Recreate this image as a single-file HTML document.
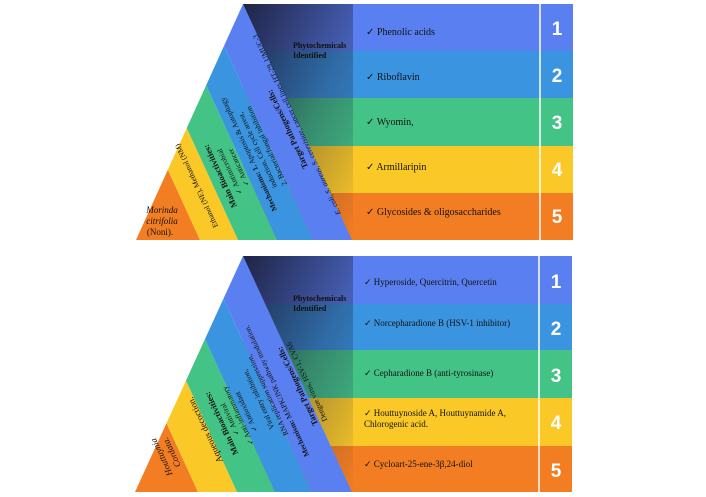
<!DOCTYPE html>
<html><head><meta charset="utf-8"><style>
html,body{margin:0;padding:0;background:#fff;}
svg{display:block;}
.s{font-family:"Liberation Serif",serif;fill:#111;}
.n{font-family:"Liberation Sans",sans-serif;font-weight:bold;fill:#fff;font-size:19px;}
</style></head><body>
<svg width="706" height="497" viewBox="0 0 706 497" xmlns="http://www.w3.org/2000/svg">
<defs>
<linearGradient id="dk" x1="0" y1="0" x2="1" y2="1">
<stop offset="0" stop-color="#1c1f3c" stop-opacity="0.95"/>
<stop offset="0.55" stop-color="#1c1f3c" stop-opacity="0.35"/>
<stop offset="1" stop-color="#1c1f3c" stop-opacity="0"/>
</linearGradient>
<clipPath id="t1"><polygon points="243,4 136,240 352,240"/></clipPath>
<clipPath id="t2"><polygon points="243,256 135,492 352,492"/></clipPath>
</defs>

<!-- ===== TOP PANEL ===== -->
<rect x="243" y="4" width="330" height="47" fill="#5a7ff0"/>
<rect x="243" y="51" width="330" height="47" fill="#3a94df"/>
<rect x="243" y="98" width="330" height="48" fill="#44c387"/>
<rect x="243" y="146" width="330" height="47" fill="#fbc927"/>
<rect x="243" y="193" width="330" height="47" fill="#f27d22"/>
<polygon points="243,4 353,4 353,240 352,240" fill="url(#dk)"/>
<line x1="540" y1="4" x2="540" y2="240" stroke="#fff" stroke-width="1.5"/>
<g clip-path="url(#t1)">
<polygon points="100,240 200,240 92,4 0,4" fill="#f27d22"/>
<polygon points="200,240 238,240 130,4 92,4" fill="#fbc927"/>
<polygon points="238,240 277,240 169,4 130,4" fill="#44c387"/>
<polygon points="277,240 313,240 205,4 169,4" fill="#3a94df"/>
<polygon points="313,240 352,240 244,4 205,4" fill="#5a7ff0"/>
</g>
<text class="s" x="293" y="48" font-size="8" font-weight="bold">Phytochemicals</text>
<text class="s" x="293" y="58" font-size="8" font-weight="bold">Identified</text>
<g class="s" font-size="10">
<text x="366" y="35">✓ Phenolic acids</text>
<text x="366" y="80">✓ Riboflavin</text>
<text x="366" y="125">✓ Wyomin,</text>
<text x="366" y="170">✓ Armillaripin</text>
<text x="366" y="215">✓ Glycosides &amp; oligosaccharides</text>
</g>
<g class="n" text-anchor="middle">
<text x="557" y="35">1</text><text x="557" y="82">2</text><text x="557" y="129">3</text><text x="557" y="176">4</text><text x="557" y="223">5</text>
</g>
<g class="s" font-size="9" text-anchor="middle">
<text x="162" y="213" font-style="italic">Morinda</text>
<text x="162" y="224" font-style="italic">citrifolia</text>
<text x="160" y="235">(Noni).</text>
</g>
<g class="s" font-size="7.5" text-anchor="middle">
<text transform="translate(196,186) rotate(-115)" dy="3">Ethanol (NE), Methanol (NM)</text>
<text transform="translate(229,172) rotate(-115)"><tspan x="0" dy="-7" font-weight="bold" font-size="8.5">Main Bioactivities:</tspan><tspan x="0" dy="10">✓ Antimicrobial</tspan><tspan x="0" dy="10">✓ Anticancer</tspan></text>
<text transform="translate(258,150) rotate(-115)"><tspan x="0" dy="-8"><tspan font-weight="bold">Mechanisms: 1.</tspan> Apoptosis &amp; Autophagy</tspan><tspan x="0" dy="10">induction, Cell cycle arrest,</tspan><tspan x="0" dy="10">2. Bacterial/fungal inhibition</tspan></text>
<text transform="translate(290,128) rotate(-115)"><tspan x="0" dy="0" font-weight="bold" font-size="8.5">Target Pathogens/Cells:</tspan><tspan x="0" dy="10" font-style="italic">E. coli, S. aureus, S. cerevisiae,</tspan><tspan> cancer cell lines HT-29, UMUC-3</tspan></text>
</g>

<!-- ===== BOTTOM PANEL ===== -->
<rect x="243" y="256" width="329" height="48" fill="#5a7ff0"/>
<rect x="243" y="304" width="329" height="46" fill="#3a94df"/>
<rect x="243" y="350" width="329" height="48" fill="#44c387"/>
<rect x="243" y="398" width="329" height="48" fill="#fbc927"/>
<rect x="243" y="446" width="329" height="46" fill="#f27d22"/>
<polygon points="243,256 353,256 353,492 352,492" fill="url(#dk)"/>
<line x1="539" y1="256" x2="539" y2="492" stroke="#fff" stroke-width="1.5"/>
<g clip-path="url(#t2)">
<polygon points="100,492 198,492 90,256 0,256" fill="#f27d22"/>
<polygon points="198,492 237,492 129,256 90,256" fill="#fbc927"/>
<polygon points="237,492 275,492 167,256 129,256" fill="#44c387"/>
<polygon points="275,492 312,492 204,256 167,256" fill="#3a94df"/>
<polygon points="312,492 352,492 244,256 204,256" fill="#5a7ff0"/>
</g>
<text class="s" x="293" y="301" font-size="8" font-weight="bold">Phytochemicals</text>
<text class="s" x="293" y="311" font-size="8" font-weight="bold">Identified</text>
<g class="s" font-size="9">
<text x="364" y="285">✓ Hyperoside, Quercitrin, Quercetin</text>
<text x="364" y="326">✓ Norcepharadione B (HSV-1 inhibitor)</text>
<text x="364" y="376">✓ Cepharadione B (anti-tyrosinase)</text>
<text x="364" y="416">✓ Houttuynoside A, Houttuynamide A,</text>
<text x="364" y="427">Chlorogenic acid.</text>
<text x="364" y="467">✓ Cycloart-25-ene-3β,24-diol</text>
</g>
<g class="n" text-anchor="middle">
<text x="556" y="288">1</text><text x="556" y="335">2</text><text x="556" y="382">3</text><text x="556" y="429">4</text><text x="556" y="477">5</text>
</g>
<g class="s" font-size="9" text-anchor="middle">
<text transform="translate(166,455) rotate(-115)" font-style="italic"><tspan x="0" dy="-2">Houttuynia</tspan><tspan x="0" dy="11">Cordata.</tspan></text>
<text transform="translate(205,430) rotate(-115)" dy="3">Aqueous decoction.</text>
</g>
<g class="s" font-size="7.5" text-anchor="middle">
<text transform="translate(233,418) rotate(-115)"><tspan x="0" dy="-10" font-weight="bold" font-size="8.5">Main Bioactivities:</tspan><tspan x="0" dy="9">✓ Antiviral</tspan><tspan x="0" dy="9">✓ Anti-inflammatory</tspan><tspan x="0" dy="9">✓ Antioxidant</tspan></text>
<text transform="translate(268,395) rotate(-115)"><tspan x="0" dy="-8">Viral entry inhibition,</tspan><tspan x="0" dy="10">RNA replication suppression,</tspan><tspan x="0" dy="10"><tspan font-weight="bold">Mechanism:</tspan> MAPK/JNK pathway modulation.</tspan></text>
<text transform="translate(300,385) rotate(-115)"><tspan x="0" dy="0" font-weight="bold" font-size="8.5">Target Pathogens/Cells:</tspan><tspan x="0" dy="10">Dengue virus, HSV-1, CVA6</tspan></text>
</g>
</svg>
</body></html>
